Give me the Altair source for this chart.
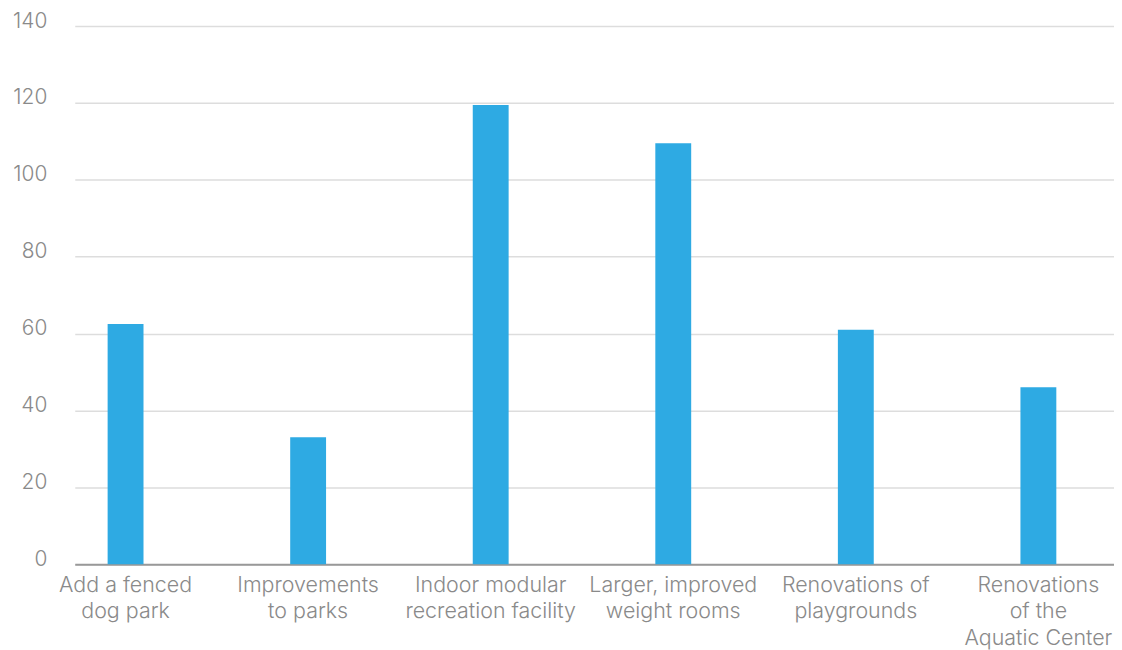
import altair as alt
import pandas as pd

categories = [
    "Add a fenced dog park",
    "Improvements to parks",
    "Indoor modular recreation facility",
    "Larger, improved weight rooms",
    "Renovations of playgrounds",
    "Renovations of the Aquatic Center",
]
label_lines = [
    ["Add a fenced", "dog park"],
    ["Improvements", "to parks"],
    ["Indoor modular", "recreation facility"],
    ["Larger, improved", "weight rooms"],
    ["Renovations of", "playgrounds"],
    ["Renovations", "of the", "Aquatic Center"],
]
values = [62.5, 33, 119.5, 109.5, 61, 46]
y_ticks = [0, 20, 40, 60, 80, 100, 120, 140]

df = pd.DataFrame({"category": categories, "value": values})

def js_str(s):
    return "'" + s.replace("'", "\\'") + "'"

mapping = "{" + ", ".join(
    js_str(c) + ": [" + ", ".join(js_str(l) for l in lines) + "]"
    for c, lines in zip(categories, label_lines)
) + "}"
label_expr = mapping + "[datum.value]"

FONT = "Inter"
GREY = "#8a8a8a"

chart = alt.Chart(df).mark_bar(color="#2eaae3").encode(
    x=alt.X(
        "category:N",
        sort=categories,
        title=None,
        scale=alt.Scale(paddingInner=0.8035, paddingOuter=0.248, align=0.363),
        axis=alt.Axis(
            labelAngle=0,
            labelExpr=label_expr,
            labelFont=FONT,
            labelFontSize=21.5,
            labelFontWeight=300,
            labelColor=GREY,
            labelLineHeight=27,
            labelPadding=10,
            labelBaseline="top",
            ticks=False,
            domainColor="#999999",
            domainWidth=2,
            grid=False,
            labelLimit=300,
        ),
    ),
    y=alt.Y(
        "value:Q",
        title=None,
        scale=alt.Scale(domain=[0, 140], nice=False),
        axis=alt.Axis(
            values=y_ticks,
            labelFont=FONT,
            labelFontSize=21,
            labelFontWeight=300,
            labelColor=GREY,
            labelPadding=28,
            labelBaseline="alphabetic",
            labelOffset=1,
            ticks=False,
            domain=False,
            gridColor="#dddddd",
            gridWidth=1.5,
        ),
    ),
).properties(
    width=1043,
    height=540,
    autosize=alt.AutoSizeParams(type="none"),
    padding={"left": 67, "top": 17, "right": 0, "bottom": 90},
).configure_view(stroke=None)

chart.save("out.html", embed_options={"renderer": "svg", "actions": False})
